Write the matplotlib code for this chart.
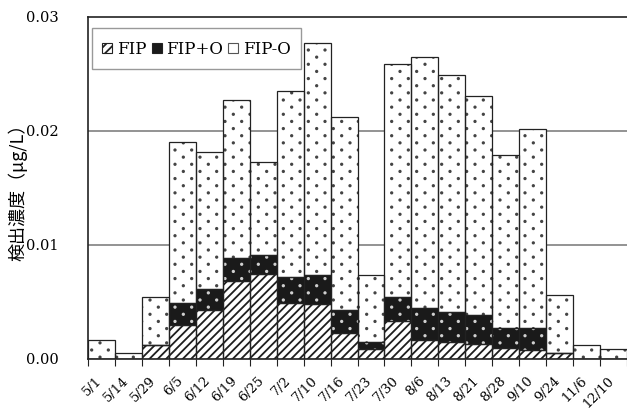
import matplotlib
matplotlib.use("Agg")
import matplotlib.pyplot as plt
import matplotlib.transforms as mtransforms
import numpy as np
from matplotlib import hatch as mhatch
from matplotlib.path import Path
from matplotlib.patches import Patch, Rectangle
from matplotlib.legend_handler import HandlerPatch

categories = ["5/1", "5/14", "5/29", "6/5", "6/12", "6/19", "6/25", "7/2", "7/10", "7/16",
              "7/23", "7/30", "8/6", "8/13", "8/21", "8/28", "9/10", "9/24", "11/6", "12/10"]
fip = [0, 0, 0.0012, 0.0030, 0.0043, 0.0068, 0.0075, 0.0049, 0.0048, 0.0023,
       0.0009, 0.0033, 0.0017, 0.0015, 0.0013, 0.0010, 0.0008, 0.0005, 0, 0]
fip_o_plus = [0, 0, 0, 0.0019, 0.0018, 0.0021, 0.0016, 0.0023, 0.0026, 0.0020,
              0.0006, 0.0021, 0.0028, 0.0026, 0.0026, 0.0017, 0.0019, 0, 0, 0]
fip_o_minus = [0.0017, 0.00055, 0.0042, 0.0141, 0.0121, 0.0138, 0.0082, 0.0163, 0.0203, 0.0169,
               0.0059, 0.0205, 0.0220, 0.0208, 0.0192, 0.0152, 0.0175, 0.0051, 0.0012, 0.0009]
series_labels = ["FIP", "FIP+O", "FIP-O"]
yticks = [0.00, 0.01, 0.02, 0.03]
ylabel = "検出濃度（μg/L）"


# custom staggered dot texture (replaces the '.' hatch)
class DotLattice(mhatch.HatchPatternBase):
    ncols = 6
    nrows = 14
    radius = 0.0072

    def __init__(self, hatch, density):
        self.active = hatch.count('.') > 0
        circ = Path.unit_circle()
        self.sv = circ.vertices
        self.sc = circ.codes
        if self.active:
            pts = []
            for r in range(self.nrows + 1):
                y = r / self.nrows
                if r % 2 == 0:
                    xs = np.linspace(0, 1, self.ncols + 1)
                else:
                    xs = np.linspace(0.5 / self.ncols, 1 - 0.5 / self.ncols, self.ncols)
                for xx in xs:
                    pts.append((xx, y))
            self.pts = pts
            self.num_vertices = len(pts) * len(self.sv)
        else:
            self.pts = []
            self.num_vertices = 0

    def set_vertices_and_codes(self, vertices, codes):
        vp, cp = [], []
        for (px, py) in self.pts:
            vp.append(self.sv * self.radius + [px, py])
            cp.append(self.sc)
        np.concatenate(vp, out=vertices)
        np.concatenate(cp, out=codes)


mhatch._hatch_types = [t for t in mhatch._hatch_types if t is not mhatch.SmallFilledCircles] + [DotLattice]

plt.rcParams['hatch.linewidth'] = 1.3

fig = plt.figure(figsize=(6.27, 4.09), dpi=100)
ax = fig.add_axes([88/627, 1-359/409, 1-88/627, (359-17)/409])

x = np.arange(len(categories))
fip_a = np.array(fip)
plus_a = np.array(fip_o_plus)
minus_a = np.array(fip_o_minus)

w = 1.0
ax.bar(x, fip_a, width=w, color="white", edgecolor="#1e1e1e", hatch="////", linewidth=0, zorder=2)
ax.bar(x, plus_a, bottom=fip_a, width=w, color="#1a1a1a", edgecolor="#d0d0d0", hatch=".", linewidth=0, zorder=2)
ax.bar(x, minus_a, bottom=fip_a + plus_a, width=w, color="white", edgecolor="#444444", hatch=".", linewidth=0, zorder=2)
ax.bar(x, fip_a, width=w, fill=False, edgecolor="#222222", linewidth=0.9, zorder=3)
ax.bar(x, plus_a, bottom=fip_a, width=w, fill=False, edgecolor="#222222", linewidth=0.9, zorder=3)
ax.bar(x, minus_a, bottom=fip_a + plus_a, width=w, fill=False, edgecolor="#222222", linewidth=0.9, zorder=3)

ax.set_xlim(-0.5, len(categories) - 0.5)
ax.set_ylim(0, 0.03)

for yv in [0.01, 0.02]:
    ax.axhline(yv, color="#808080", linewidth=1.2, zorder=1)

ax.set_yticks(yticks)
ax.set_yticklabels([f"{v:.2f}" for v in yticks], family="DejaVu Serif", fontsize=10.5)
ax.tick_params(axis="y", length=0, pad=21)

ax.set_xticks(x)
ax.set_xticklabels(categories, rotation=45, ha="right", rotation_mode="anchor",
                   family="DejaVu Serif", fontsize=9.5)
ax.tick_params(axis="x", which="major", length=0, pad=11)
shift = mtransforms.ScaledTranslation(-6/100, 0, fig.dpi_scale_trans)
for lbl in ax.get_xticklabels():
    lbl.set_transform(lbl.get_transform() + shift)
ax.set_xticks(np.arange(-0.5, len(categories)), minor=True)
ax.tick_params(axis="x", which="minor", length=5, width=0.8, direction="out", color="#222222")

for s in ["left", "bottom", "top"]:
    ax.spines[s].set_linewidth(1.2)
    ax.spines[s].set_color("#222222")
ax.spines["right"].set_visible(False)


def small_square(legend, orig_handle, xdescent, ydescent, width, height, fontsize):
    s = 0.6 * fontsize
    y0 = 0.365 * fontsize - s / 2
    return Rectangle((-xdescent, y0), s, s)


handles = [
    Patch(facecolor="white", edgecolor="#222222", hatch="////", linewidth=0.8),
    Patch(facecolor="#1a1a1a", edgecolor="#222222", linewidth=0.8),
    Patch(facecolor="white", edgecolor="#555555", linewidth=0.8),
]
leg = ax.legend(handles, series_labels, loc="upper left", ncol=3, frameon=True, fancybox=False,
                prop={"family": "DejaVu Serif", "size": 12}, handlelength=0.6, handleheight=1.6,
                handletextpad=0.3, columnspacing=0.3, borderpad=0.6,
                handler_map={Patch: HandlerPatch(patch_func=small_square)},
                bbox_to_anchor=(4/539, 1 - 11/342), borderaxespad=0)
leg.get_frame().set_edgecolor("#808080")
leg.get_frame().set_linewidth(1.0)

fig.text(18/627, 1 - 188/409, ylabel, rotation=90, ha="center", va="center",
         family=["Noto Sans CJK JP", "DejaVu Sans"], fontsize=13)

fig.savefig("out.png", dpi=100)
